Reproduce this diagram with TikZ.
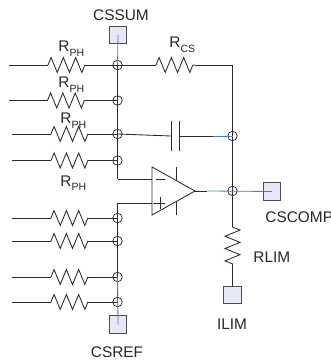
\documentclass[tikz,border=0pt]{standalone}
\usepackage{fontspec}
\setmainfont{Liberation Sans}
\usetikzlibrary{decorations.pathmorphing}
\definecolor{padfill}{HTML}{E4E9F5}
\definecolor{tracecol}{HTML}{4F7CC0}
\definecolor{wirecol}{HTML}{2A2A2A}
\tikzset{
  pad/.style={draw=black!70, fill=padfill, line width=1.1pt, minimum size=17.5pt, inner sep=0pt},
  junc/.style={circle, draw=wirecol, line width=.75pt, minimum size=9.5pt, inner sep=0pt},
  lbl/.style={font=\fontsize{15.4}{17}\selectfont, text=black!85, inner sep=0pt},
  res/.style={decorate, decoration={zigzag, amplitude=7.5pt, segment length=12.3pt}},
  sig/.style={draw=tracecol, line width=.8pt}
}
\newcommand{\rsub}[1]{R\raisebox{-4.5pt}{\fontsize{10.5}{11}\selectfont #1}}
\begin{document}
\begin{tikzpicture}[x=1pt, y=-1pt, line width=.85pt, draw=wirecol]
\useasboundingbox (0,0) rectangle (330,363);
% pads
\node[pad] (cssum) at (118,35) {};
\node[pad] (csref) at (118,324.5) {};
\node[pad] (cscomp) at (272,191.5) {};
\node[pad] (ilim) at (232.5,295) {};
% nodes on the two summing lines
\foreach \nm/\yy in {a/65, b/100.5, c/134, d/160.5, e/218, f/241, g/277, h/302}
  \node[junc] (\nm) at (117.5,\yy) {};
\node[junc] (fbk) at (232.5,136) {};
\node[junc] (out) at (232.5,191) {};
% input resistors
\foreach \nm/\yy/\xs in {a/65/9, b/100.5/8.5, c/134/12, d/160.5/12, e/218/12, f/241/12, g/277/12, h/302/12}{
  \coordinate (s\nm) at (\xs,\yy);
  \coordinate (p\nm) at (\xs+39,\yy);
  \coordinate (q\nm) at (\xs+76,\yy);
  \draw (s\nm) -- (p\nm);
  \draw[res] (p\nm) -- (q\nm);
  \draw (q\nm) -- (\nm.center);
}
% summing lines
\coordinate (tl) at (117.5,179);
\coordinate (bl) at (117.5,203);
\draw (a.center) -- (tl);
\draw (bl) -- (h.center);
% op amp
\coordinate (oa1) at (152,167);
\coordinate (oa2) at (152,215);
\coordinate (oa3) at (195,191);
\draw (oa1) -- (oa3) -- (oa2) -- cycle;
\coordinate (inm) at (152,179);
\coordinate (inp) at (152,203);
\draw (tl) -- (inm);
\draw (bl) -- (inp);
\draw (156,179) -- (165,179);
\draw (153,203) -- (165,203) (160,197) -- (160,209);
\draw (176,167) -- (176,180) (176,202) -- (176,215);
% feedback
\coordinate (rcs1) at (156,65);
\coordinate (rcs2) at (195,65);
\coordinate (tr) at (232.5,65);
\draw (a.center) -- (rcs1);
\draw[res] (rcs1) -- (rcs2);
\draw (rcs2) -- (tr) -- (out.center);
\coordinate (cap1) at (171,136);
\coordinate (cap2) at (179,136);
\coordinate (capw) at (213,136);
\coordinate (outw) at (207,191);
\draw (c.center) -- (cap1);
\draw (cap2) -- (capw);
\draw (171,121) -- (171,151) (179,121) -- (179,151);
\draw (oa3) -- (outw);
% limit resistor
\coordinate (rl1) at (232.5,227);
\coordinate (rl2) at (232.5,267);
\draw (out.center) -- (rl1);
\draw[res] (rl1) -- (rl2);
\draw (rl2) -- (ilim.north);
% blue traces
\draw[sig] (cssum.center) -- (a.center);
\draw[sig] (g.center) -- (csref.center);
\draw[sig] (capw) -- (fbk.center);
\draw[sig] (outw) -- (cscomp.center);
% labels
\node[lbl] at (121,15) {CSSUM};
\node[lbl] at (117,352) {CSREF};
\node[lbl, anchor=west] at (265,217) {CSCOMP};
\node[lbl, anchor=west] at (253,257) {RLIM};
\node[lbl] at (232,324) {ILIM};
\node[lbl, anchor=base west] at (58,52) {\rsub{PH}};
\node[lbl, anchor=base west] at (58,88) {\rsub{PH}};
\node[lbl, anchor=base west] at (60,124) {\rsub{PH}};
\node[lbl, anchor=base west] at (60,186) {\rsub{PH}};
\node[lbl, anchor=base west] at (169,48) {\rsub{CS}};
\end{tikzpicture}
\end{document}
